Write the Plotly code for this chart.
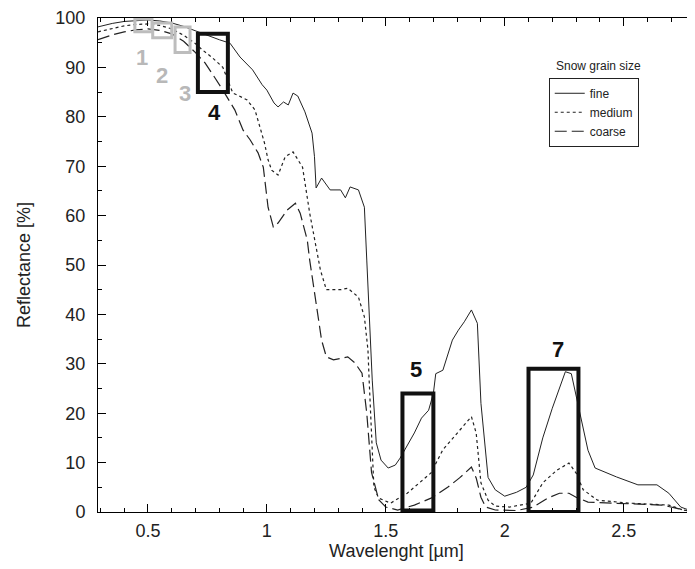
import plotly.graph_objects as go

# ---- data ----
fine_wl = [0.29, 0.35, 0.40, 0.45, 0.50, 0.55, 0.60, 0.65, 0.70, 0.76, 0.80, 0.845, 0.887, 0.94,
           0.98, 1.00, 1.03, 1.047, 1.07, 1.09, 1.11, 1.13, 1.16, 1.19, 1.20, 1.207, 1.23, 1.266,
           1.31, 1.33, 1.35, 1.385, 1.41, 1.42, 1.43, 1.443, 1.46, 1.48, 1.51, 1.54, 1.56, 1.58,
           1.62, 1.65, 1.68, 1.70, 1.71, 1.74, 1.78, 1.805, 1.83, 1.86, 1.885, 1.90, 1.93, 1.96,
           2.00, 2.05, 2.09, 2.12, 2.16, 2.20, 2.255, 2.28, 2.31, 2.35, 2.38, 2.47, 2.56, 2.64,
           2.69, 2.74, 2.78, 2.80]
fine_r = [98.2, 98.9, 99.3, 99.5, 99.6, 99.4, 99.0, 98.3, 97.4, 96.2, 95.6, 94.9, 92.1, 89.5,
          86.5, 85.4, 82.8, 82.0, 83.0, 82.4, 84.8, 84.2, 81.0, 76.7, 72.0, 65.6, 67.6, 65.2,
          65.2, 63.6, 65.8, 65.2, 61.7, 51.0, 40.0, 26.7, 14.0, 10.5, 8.9, 9.5, 10.9, 12.6,
          16.0, 19.0, 20.6, 24.0, 28.0, 28.7, 34.8, 36.8, 38.5, 40.9, 38.2, 22.0, 7.0, 4.5,
          3.2, 4.0, 5.0, 7.5, 15.0, 21.0, 28.4, 28.0, 21.3, 12.5, 8.9, 7.1, 5.5, 5.5,
          3.8, 1.0, 0.3, 0.1]

medium_wl = [0.29, 0.35, 0.40, 0.45, 0.50, 0.55, 0.60, 0.65, 0.70, 0.73, 0.77, 0.815, 0.857,
             0.88, 0.917, 0.95, 0.97, 0.99, 1.005, 1.02, 1.047, 1.077, 1.11, 1.15, 1.18, 1.215,
             1.225, 1.25, 1.31, 1.34, 1.385, 1.41, 1.425, 1.43, 1.45, 1.47, 1.52, 1.59, 1.69,
             1.74, 1.81, 1.86, 1.88, 1.90, 1.93, 1.96, 2.02, 2.11, 2.16, 2.22, 2.27, 2.30, 2.33,
             2.39, 2.52, 2.69, 2.75, 2.80]
medium_r = [97.2, 97.9, 98.4, 98.7, 98.8, 98.5, 97.8, 96.5, 94.8, 93.5, 92.0, 90.0, 84.8,
            84.3, 83.4, 81.4, 77.9, 74.7, 71.3, 69.2, 68.2, 71.9, 72.9, 69.8, 60.5, 51.6,
            49.0, 45.0, 45.0, 45.3, 43.5, 39.5, 32.8, 26.7, 5.0, 2.8, 1.8, 3.8, 7.9,
            12.6, 16.6, 19.3, 16.0, 5.9, 2.4, 1.2, 1.0, 1.8, 5.9, 8.5, 9.9, 7.9, 4.5,
            2.4, 1.8, 1.4, 0.4, 0.1]

coarse_wl = [0.29, 0.35, 0.40, 0.45, 0.50, 0.55, 0.60, 0.65, 0.70, 0.74, 0.78, 0.815, 0.865,
             0.90, 0.93, 0.963, 0.985, 1.005, 1.027, 1.047, 1.085, 1.12, 1.14, 1.17, 1.18, 1.21,
             1.23, 1.25, 1.28, 1.34, 1.37, 1.40, 1.42, 1.44, 1.47, 1.50, 1.55, 1.62, 1.69, 1.76,
             1.81, 1.86, 1.88, 1.90, 1.92, 1.96, 2.05, 2.12, 2.18, 2.23, 2.27, 2.30, 2.35, 2.45,
             2.55, 2.66, 2.72, 2.76, 2.80]
coarse_r = [95.6, 96.6, 97.2, 97.6, 97.8, 97.5, 96.8, 95.3, 93.0, 90.9, 88.0, 85.4, 81.4,
            77.3, 75.3, 72.7, 69.8, 61.7, 57.7, 58.5, 61.1, 62.5, 60.5, 55.0, 51.0, 40.9,
            34.8, 31.4, 30.8, 31.4, 30.2, 28.1, 20.0, 8.0, 2.5, 1.0, 0.4, 1.4, 2.8, 5.0,
            6.9, 9.1, 6.9, 3.0, 1.0, 0.4, 0.3, 1.0, 2.8, 3.8, 3.8, 3.0, 2.0, 1.8,
            1.6, 1.4, 0.8, 0.3, 0.1]

series_names = ["fine", "medium", "coarse"]

x_tickvals = [0.5, 1.0, 1.5, 2.0, 2.5]
x_ticktext = ["0.5", "1", "1.5", "2", "2.5"]
y_tickvals = [0, 10, 20, 30, 40, 50, 60, 70, 80, 90, 100]

# highlighted band boxes: (label, x0, x1, y0, y1)
gray_boxes = [("1", 0.445, 0.517, 97.2, 99.8),
              ("2", 0.52, 0.60, 96.0, 99.0),
              ("3", 0.614, 0.677, 93.0, 98.2)]
gray_labels = [("1", 0.475, 92.0), ("2", 0.56, 88.3), ("3", 0.657, 84.8)]
black_boxes = [("4", 0.71, 0.836, 85.0, 96.8),
               ("5", 1.57, 1.70, 0.3, 24.0),
               ("7", 2.10, 2.31, 0.0, 29.0)]
black_labels = [("4", 0.78, 80.8), ("5", 1.625, 28.8), ("7", 2.225, 32.8)]

FONT = "Liberation Sans, Arial, sans-serif"
LINE_COL = "#222222"

fig = go.Figure()
fig.add_trace(go.Scatter(x=fine_wl, y=fine_r, mode="lines", name=series_names[0],
                         line=dict(color=LINE_COL, width=1)))
fig.add_trace(go.Scatter(x=medium_wl, y=medium_r, mode="lines", name=series_names[1],
                         line=dict(color=LINE_COL, width=1.2, dash="dot")))
fig.add_trace(go.Scatter(x=coarse_wl, y=coarse_r, mode="lines", name=series_names[2],
                         line=dict(color=LINE_COL, width=1.2, dash="12px,5px")))

for lab, x0, x1, y0, y1 in gray_boxes:
    fig.add_shape(type="rect", xref="x", yref="y", x0=x0, x1=x1, y0=y0, y1=y1,
                  line=dict(color="#bdbdbd", width=3), layer="above")
for lab, x0, x1, y0, y1 in black_boxes:
    fig.add_shape(type="rect", xref="x", yref="y", x0=x0, x1=x1, y0=y0, y1=y1,
                  line=dict(color="#111111", width=4), layer="above")
for lab, x, y in gray_labels:
    fig.add_annotation(x=x, y=y, xref="x", yref="y", text="<b>%s</b>" % lab, showarrow=False,
                       font=dict(family=FONT, size=22, color="#b8b8b8"))
for lab, x, y in black_labels:
    fig.add_annotation(x=x, y=y, xref="x", yref="y", text="<b>%s</b>" % lab, showarrow=False,
                       font=dict(family=FONT, size=22, color="#111111"))

fig.add_annotation(x=0.838, y=0.884, xref="paper", yref="paper", text="Snow grain size",
                   showarrow=False, xanchor="center", yanchor="bottom",
                   font=dict(family=FONT, size=12, color="#222222"))

# the page body adds an 8 px offset; size and margins compensate so the plot
# lands where the reference has it without overflowing the window
fig.update_layout(
    width=687, height=561,
    margin=dict(l=90, r=0, t=10, b=57, autoexpand=False),
    paper_bgcolor="white", plot_bgcolor="white",
    font=dict(family=FONT, size=18, color="#222222"),
    showlegend=True,
    legend=dict(x=0.755, y=0.879, xanchor="left", yanchor="top",
                bordercolor="#222222", borderwidth=1, bgcolor="white",
                font=dict(family=FONT, size=12, color="#222222"),
                tracegroupgap=0, itemwidth=30),
)
fig.update_xaxes(range=[0.29, 2.80], showgrid=False, zeroline=False, automargin=False,
                 showline=True, linecolor="black", linewidth=1, mirror="ticks",
                 ticks="inside", ticklen=8, tickcolor="black",
                 tickvals=x_tickvals, ticktext=x_ticktext,
                 minor=dict(dtick=0.1, tick0=0.0, ticks="inside", ticklen=4, tickcolor="black"),
                 tickfont=dict(size=18), ticklabelstandoff=2,
                 title=dict(text="Wavelenght [µm]", font=dict(size=18), standoff=2))
fig.update_yaxes(range=[0, 100], showgrid=False, zeroline=False, automargin=False,
                 showline=True, linecolor="black", linewidth=1, mirror=False,
                 ticks="inside", ticklen=8, tickcolor="black",
                 tickvals=y_tickvals,
                 minor=dict(dtick=5, tick0=0, ticks="inside", ticklen=4, tickcolor="black"),
                 tickfont=dict(size=18), ticklabelstandoff=8,
                 title=dict(text="Reflectance [%]", font=dict(size=18), standoff=20))

fig.write_html("out.html")
